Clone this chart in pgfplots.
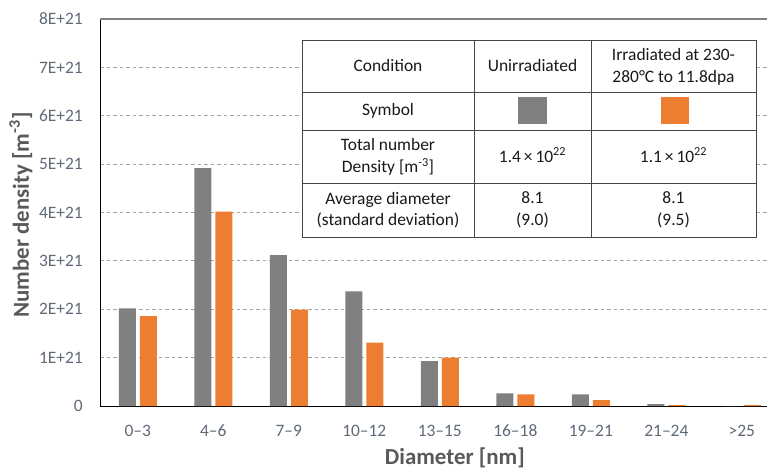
\documentclass[border=0pt]{standalone}
\usepackage{pgfplots}
\pgfplotsset{compat=1.18}
\usepackage{fontspec}
\setmainfont{Carlito}
\definecolor{bargray}{RGB}{128,128,128}
\definecolor{barorange}{RGB}{237,125,49}
\definecolor{ticktext}{RGB}{95,105,120}
\definecolor{labeltext}{RGB}{89,89,89}
\definecolor{gridc}{RGB}{165,165,165}
\definecolor{topline}{RGB}{128,128,128}
\definecolor{tabline}{RGB}{70,70,70}
\definecolor{tabtext}{RGB}{25,25,25}
\begin{document}
\begin{tikzpicture}
\useasboundingbox (0,0) rectangle (767bp,-471bp);
\begin{axis}[
  at={(100bp,-406bp)}, anchor=south west,
  scale only axis, width=667bp, height=387bp,
  xmin=-0.5, xmax=8.333, ymin=0, ymax=8,
  axis x line=bottom, axis y line=left,
  axis line style={-, black, line width=1bp},
  xtick={0,...,8},
  xticklabels={0\textendash3,4\textendash6,7\textendash9,10\textendash12,13\textendash15,16\textendash18,19\textendash21,21\textendash24,>25},
  ytick={0,...,8},
  yticklabels={0,1E+21,2E+21,3E+21,4E+21,5E+21,6E+21,7E+21,8E+21},
  major tick length=0pt,
  ymajorgrids,
  major grid style={gridc, dash pattern=on 3.5bp off 3bp, line width=0.9bp},
  ticklabel style={font=\fontsize{17.5}{20}\selectfont, text=ticktext, inner sep=0pt},
  xticklabel style={anchor=base, yshift=-30.5bp},
  yticklabel style={anchor=east, xshift=-17bp},
  xlabel={Diameter [nm]},
  ylabel={Number density [m\textsuperscript{-3}]},
  label style={font=\fontsize{23}{27}\selectfont\bfseries, text=labeltext, inner sep=0pt},
  xlabel style={at={(rel axis cs:0.532,0)}, anchor=center, yshift=-52bp},
  ylabel style={at={(rel axis cs:-0.1184,0.4935)}, anchor=center},
  clip=false,
]
\addplot[ybar, bar width=17bp, bar shift=-10.5bp, fill=bargray, draw=none]
  coordinates {(0,2.02) (1,4.92) (2,3.12) (3,2.37) (4,0.93) (5,0.26) (6,0.24) (7,0.04) (8,0)};
\addplot[ybar, bar width=17bp, bar shift=10.5bp, fill=barorange, draw=none]
  coordinates {(0,1.86) (1,4.02) (2,1.99) (3,1.31) (4,1.00) (5,0.24) (6,0.12) (7,0.02) (8,0.02)};
\draw[topline, line width=2bp] (rel axis cs:0,1) -- (rel axis cs:1,1);
\end{axis}
% table
\draw[tabline, fill=white, line width=1bp] (302bp,-40bp) rectangle (756bp,-237bp);
\draw[tabline, line width=1bp] (474bp,-40bp) -- (474bp,-237bp)
  (591bp,-40bp) -- (591bp,-237bp)
  (302bp,-92bp) -- (756bp,-92bp)
  (302bp,-130bp) -- (756bp,-130bp)
  (302bp,-183bp) -- (756bp,-183bp);
\begin{scope}[every node/.style={font=\fontsize{17.5}{21.6}\selectfont, text=tabtext, align=center, inner sep=0pt}]
\node at (388bp,-66bp) {Condition};
\node at (532.5bp,-66bp) {Unirradiated};
\node at (673.5bp,-67bp) {Irradiated at 230-\\280°C to 11.8dpa};
\node at (388bp,-111bp) {Symbol};
\node at (388bp,-157bp) {Total number\\Density [m\textsuperscript{-3}]};
\node at (532.5bp,-155bp) {1.4\,×\,10\textsuperscript{22}};
\node at (673.5bp,-155bp) {1.1\,×\,10\textsuperscript{22}};
\node at (388bp,-210bp) {Average diameter\\(standard deviation)};
\node at (532.5bp,-210bp) {8.1\\(9.0)};
\node at (673.5bp,-210bp) {8.1\\(9.5)};
\end{scope}
\fill[bargray] (518bp,-97bp) rectangle (547bp,-124bp);
\fill[barorange] (661bp,-97bp) rectangle (689bp,-124bp);
\end{tikzpicture}
\end{document}
